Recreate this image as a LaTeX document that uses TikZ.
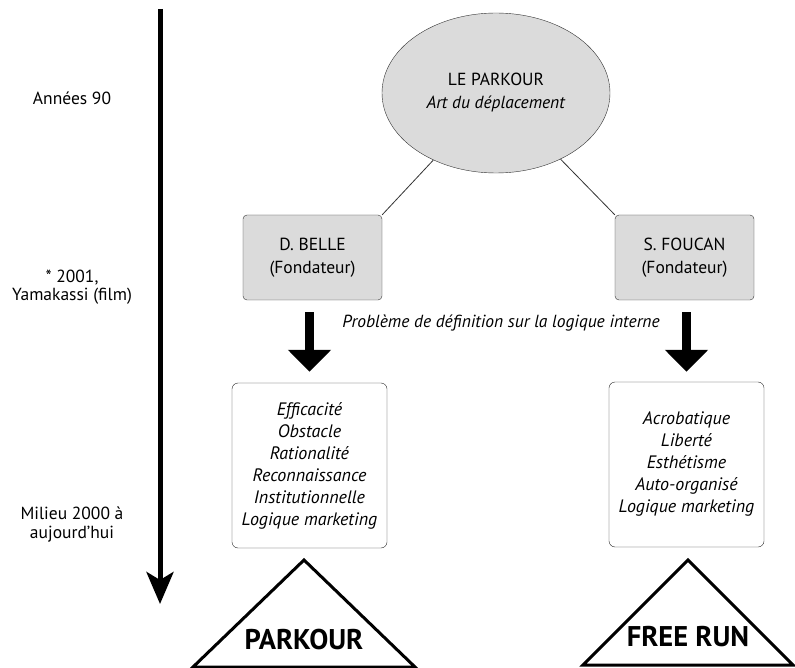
\documentclass[tikz,border=0pt]{standalone}
\usepackage{fontspec}
\setmainfont{PT Sans}
\usetikzlibrary{shapes.geometric,arrows.meta}

\tikzset{
  txt/.style={font=\fontsize{17.5}{23}\selectfont, align=center, inner sep=0pt},
  founder/.style={txt, draw=black!80, fill=black!14, rounded corners=4pt, minimum width=139pt, minimum height=85pt},
  traits/.style={txt, draw=black!85, fill=white, rounded corners=6pt, minimum width=155pt, minimum height=165pt, font=\fontsize{18}{22}\selectfont\itshape},
  bigarrow/.style={line width=9pt, -{Triangle[length=22pt 0 0, width=42pt 0 0]}},
  flag/.style={line width=3pt, line join=miter},
  flagtext/.style={inner sep=0pt, font=\fontsize{28.5}{30}\selectfont\bfseries}
}

\begin{document}
\begin{tikzpicture}[x=1pt,y=-1pt]
  \useasboundingbox (0,0) rectangle (795,668);

  \coordinate (t0) at (160,9);
  \coordinate (t1) at (160,604);
  \draw[line width=5pt, -{Stealth[length=32pt 0 0, width=27pt 0 0, inset=8pt 0 0]}] (t0) -- (t1);
  \node[txt] (annees) at (72,98) {Années 90};
  \node[txt, font=\fontsize{17.5}{18}\selectfont] (film) at (72,287) {* 2001,\\Yamakassi (film)};
  \node[txt, font=\fontsize{17.5}{19}\selectfont] (milieu) at (72,525) {Milieu 2000 à\\aujourd'hui};

  \node[ellipse, draw=black!80, fill=black!14, minimum width=228pt, minimum height=160pt, txt] (parkour) at (496,93) {LE PARKOUR\\\textit{Art du déplacement}};
  \node[founder] (belle) at (312.5,257.5) {D. BELLE\\(Fondateur)};
  \node[founder] (foucan) at (684.5,257.5) {S. FOUCAN\\(Fondateur)};
  \draw[black!80, line width=0.8pt] (parkour) -- (belle.north east);
  \draw[black!80, line width=0.8pt] (parkour) -- (foucan.north west);

  \node[traits] (pklist) at (309.5,465.5) {Efficacité\\Obstacle\\Rationalité\\Reconnaissance\\Institutionnelle\\Logique marketing};
  \node[traits] (frlist) at (686.5,464.5) {Acrobatique\\Liberté\\Esthétisme\\Auto-organisé\\Logique marketing};

  \draw[bigarrow] ([yshift=-12pt]pklist.north |- belle.south) -- ([yshift=11pt]pklist.north);
  \draw[bigarrow] ([yshift=-12pt]frlist.north |- foucan.south) -- ([yshift=10pt]frlist.north);
  \node[txt, font=\fontsize{17.5}{22}\selectfont\itshape] (probleme) at (501,323) {Problème de définition sur la logique interne};

  \draw[flag] (304,560) -- (415,667) -- (193,667) -- cycle;
  \node[flagtext] (pk) at (304,640) {PARKOUR};
  \draw[flag] (688,560) -- (793,665) -- (583,665) -- cycle;
  \node[flagtext] (fr) at (688,637) {FREE RUN};
\end{tikzpicture}
\end{document}
